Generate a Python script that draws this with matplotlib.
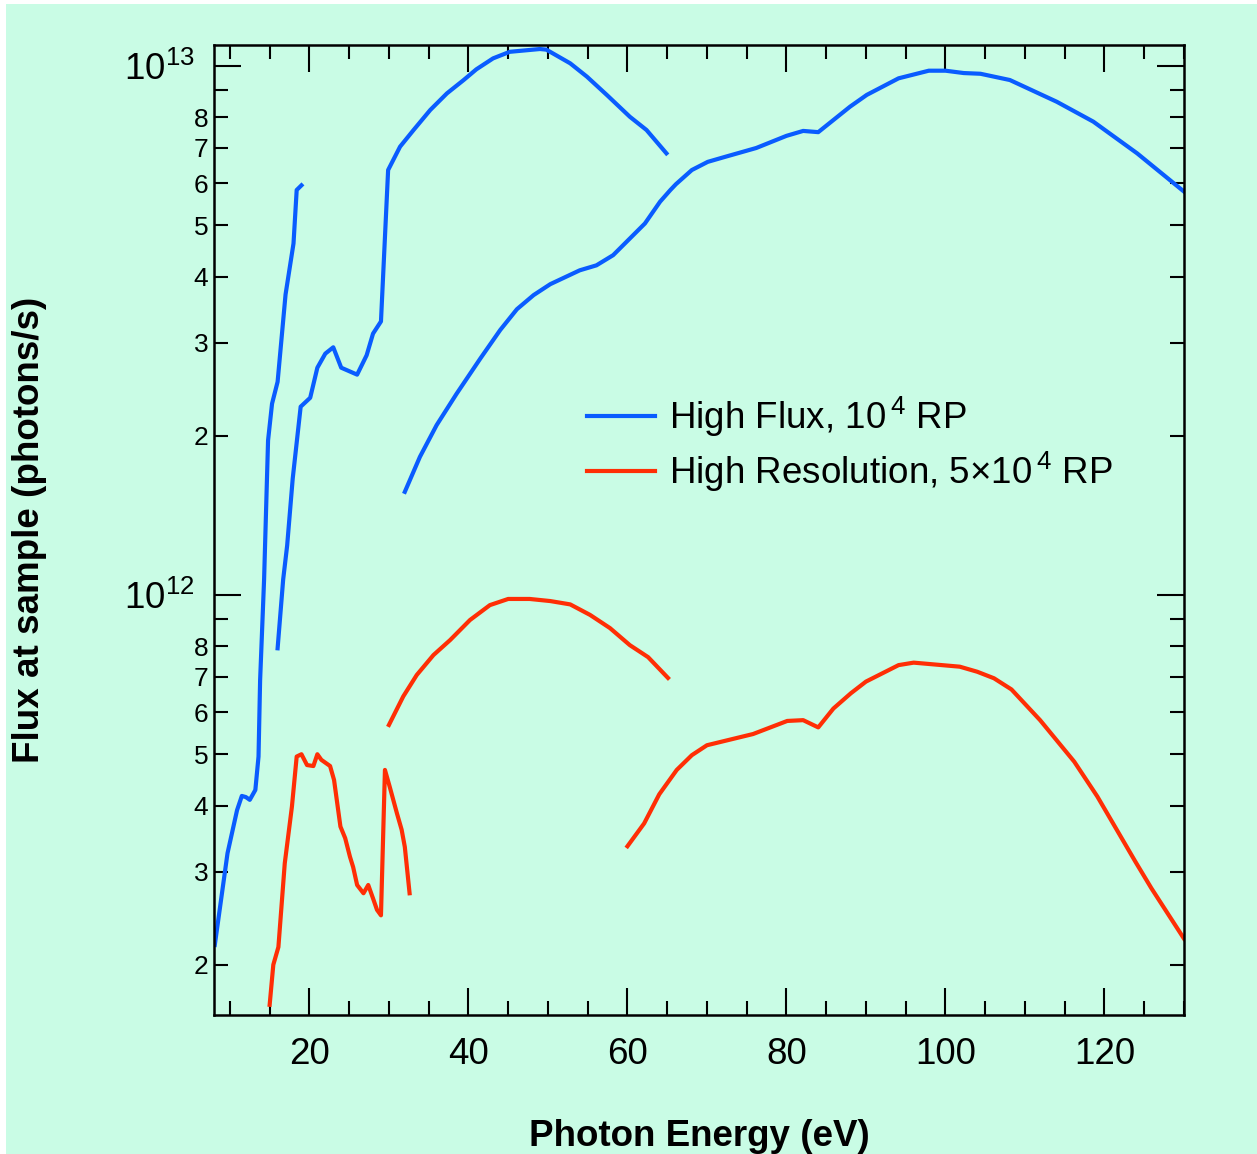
import matplotlib
matplotlib.use('Agg')
import matplotlib.pyplot as plt
from matplotlib.ticker import FixedLocator, FixedFormatter, MultipleLocator
from matplotlib.patches import Rectangle

plt.rcParams['font.family'] = ['Liberation Sans', 'DejaVu Sans']
plt.rcParams['mathtext.fontset'] = 'custom'
plt.rcParams['mathtext.rm'] = 'Liberation Sans'
plt.rcParams['mathtext.default'] = 'regular'

#high flux curves (three grating pieces), photon energy in eV, flux in photons/s
hf_a_x = [8.1, 9.7, 10.9, 11.5, 12.0, 12.5, 13.2, 13.6, 13.8, 14.3, 14.8, 15.3, 16.0, 17.0, 18.0, 18.4, 19.0]
hf_a_y = [0.218e12, 0.325e12, 0.392e12, 0.417e12, 0.415e12, 0.41e12, 0.428e12, 0.495e12, 0.69e12, 1.07e12,
          1.96e12, 2.30e12, 2.53e12, 3.70e12, 4.62e12, 5.83e12, 5.95e12]

hf_b_x = [16.0, 16.7, 17.2, 17.9, 18.9, 20.1, 21.0, 22.0, 23.0, 24.0, 26.0, 27.2, 28.0, 29.0, 29.9, 31.4, 33.1,
          35.2, 37.3, 39.4, 41.0, 43.1, 45.2, 49.0, 49.8, 52.8, 54.9, 57.4, 60.3, 62.4, 64.9]
hf_b_y = [0.793e12, 1.07e12, 1.24e12, 1.66e12, 2.27e12, 2.36e12, 2.69e12, 2.86e12, 2.94e12, 2.69e12, 2.61e12,
          2.84e12, 3.12e12, 3.29e12, 6.36e12, 7.04e12, 7.57e12, 8.26e12, 8.88e12, 9.41e12, 9.86e12, 10.34e12,
          10.64e12, 10.77e12, 10.74e12, 10.12e12, 9.55e12, 8.82e12, 8.02e12, 7.57e12, 6.84e12]

hf_c_x = [32.0, 33.9, 36.0, 38.5, 41.5, 44.0, 46.1, 48.2, 50.3, 54.0, 56.1, 58.2, 60.3, 62.2, 64.1, 65.4, 66.1,
          68.1, 70.1, 72.2, 76.2, 80.0, 82.1, 84.0, 88.0, 90.1, 94.1, 97.9, 100.0, 102.3, 104.4, 108.1,
          114.0, 118.6, 124.1, 130.0]
hf_c_y = [1.567e12, 1.825e12, 2.095e12, 2.40e12, 2.80e12, 3.17e12, 3.47e12, 3.69e12, 3.87e12, 4.11e12, 4.20e12,
          4.39e12, 4.72e12, 5.04e12, 5.54e12, 5.83e12, 5.98e12, 6.36e12, 6.59e12, 6.73e12, 7.00e12,
          7.38e12, 7.54e12, 7.50e12, 8.38e12, 8.82e12, 9.48e12, 9.80e12, 9.80e12, 9.70e12, 9.67e12, 9.41e12,
          8.56e12, 7.85e12, 6.84e12, 5.79e12]

#high resolution curves
hr_a_x = [15.0, 15.46, 16.1, 16.9, 17.8, 18.4, 19.0, 19.7, 20.5, 21.0, 21.5, 22.6, 23.1, 23.9, 24.5, 25.1, 25.5,
          26.0, 26.8, 27.4, 28.0, 28.5, 29.0, 29.5, 30.1, 31.0, 31.6, 32.0, 32.6]
hr_a_y = [1.68e11, 2.0e11, 2.16e11, 3.11e11, 3.98e11, 4.95e11, 5.0e11, 4.77e11, 4.75e11, 5.0e11, 4.88e11, 4.75e11,
          4.47e11, 3.65e11, 3.47e11, 3.2e11, 3.06e11, 2.83e11, 2.73e11, 2.83e11, 2.67e11, 2.54e11, 2.48e11,
          4.67e11, 4.34e11, 3.87e11, 3.6e11, 3.34e11, 2.73e11]

hr_b_x = [30.0, 31.8, 33.5, 35.6, 37.7, 40.2, 42.7, 45.0, 47.7, 50.3, 52.8, 55.3, 57.8, 60.3, 62.6, 65.1]
hr_b_y = [5.68e11, 6.43e11, 7.06e11, 7.70e11, 8.22e11, 8.97e11, 9.57e11, 9.83e11, 9.83e11, 9.74e11, 9.60e11,
          9.17e11, 8.66e11, 8.04e11, 7.63e11, 6.97e11]

hr_c_x = [60.0, 62.1, 64.0, 66.2, 68.1, 70.0, 75.8, 80.1, 82.1, 84.0, 85.9, 88.1, 90.0, 94.1, 96.0, 101.8, 104.0,
          106.1, 108.3, 111.9, 116.2, 119.1, 123.9, 125.9, 130.0]
hr_c_y = [3.35e11, 3.70e11, 4.20e11, 4.67e11, 4.98e11, 5.20e11, 5.46e11, 5.78e11, 5.80e11, 5.62e11, 6.10e11,
          6.52e11, 6.86e11, 7.37e11, 7.45e11, 7.32e11, 7.16e11, 6.96e11, 6.63e11, 5.80e11, 4.84e11, 4.16e11,
          3.13e11, 2.79e11, 2.24e11]

#axis ticks
x_major = [20, 40, 60, 80, 100, 120]
y_major = [1e12, 1e13]
y_major_labels = [r'$10^{12}$', r'$10^{13}$']
y_minor = [m * 1e11 for m in range(2, 10)] + [m * 1e12 for m in range(2, 10)]
y_minor_labels = ['2', '3', '4', '5', '6', '7', '8', ''] * 2

legend_labels = [r'High Flux, 10$^{\,4}$ RP', r'High Resolution, 5$\times$10$^{\,4}$ RP']

bg = '#C9FCE5'
blue = '#0A5CFF'
red = '#FF2E05'

fig = plt.figure(figsize=(12.57, 11.54), dpi=100, facecolor='white')
fig.patches.append(Rectangle((6 / 1257, 0), 1, 1 - 4 / 1154, transform=fig.transFigure,
                             facecolor=bg, edgecolor='none', zorder=-10))
ax = fig.add_axes([214 / 1257, 1 - 1015 / 1154, 970 / 1257, 970 / 1154])
ax.set_facecolor(bg)

lw = 3.0
ax.plot(hf_a_x, hf_a_y, color=blue, lw=lw, label=legend_labels[0])
ax.plot(hf_b_x, hf_b_y, color=blue, lw=lw)
ax.plot(hf_c_x, hf_c_y, color=blue, lw=lw)
ax.plot(hr_a_x, hr_a_y, color=red, lw=lw, label=legend_labels[1])
ax.plot(hr_b_x, hr_b_y, color=red, lw=lw)
ax.plot(hr_c_x, hr_c_y, color=red, lw=lw)

ax.set_yscale('log')
ax.set_xlim(8, 130)
ax.set_ylim(1.607e11, 1.096e13)

ax.xaxis.set_major_locator(FixedLocator(x_major))
ax.xaxis.set_minor_locator(MultipleLocator(5))
ax.yaxis.set_major_locator(FixedLocator(y_major))
ax.yaxis.set_major_formatter(FixedFormatter(y_major_labels))
ax.yaxis.set_minor_locator(FixedLocator(y_minor))
ax.yaxis.set_minor_formatter(FixedFormatter(y_minor_labels))

ax.tick_params(which='both', direction='in', top=True, right=True, width=1.5, colors='black')
ax.tick_params(which='major', length=19.5)
ax.tick_params(which='minor', length=10)
ax.tick_params(axis='x', which='major', labelsize=26.5, pad=16)
ax.tick_params(axis='y', which='major', labelsize=26.5, pad=14)
ax.tick_params(axis='y', which='minor', labelsize=19, pad=4)
for s in ax.spines.values():
    s.set_linewidth(1.8)

fig.text(699 / 1257, 1 - 1136 / 1154, 'Photon Energy (eV)', fontsize=26.5, fontweight='bold',
         ha='center', va='center')
fig.text(30 / 1257, 1 - 530 / 1154, 'Flux at sample (photons/s)', fontsize=26.5, fontweight='bold',
         ha='center', va='center', rotation=90)

ax.legend(loc='center left', bbox_to_anchor=((587 - 214) / 970, 1 - (444.5 - 45) / 970),
          frameon=False, fontsize=26.5, handlelength=1.85, handletextpad=0.38, labelspacing=0.3,
          borderpad=0, borderaxespad=0)

fig.savefig('out.png', dpi=100, facecolor=fig.get_facecolor())
